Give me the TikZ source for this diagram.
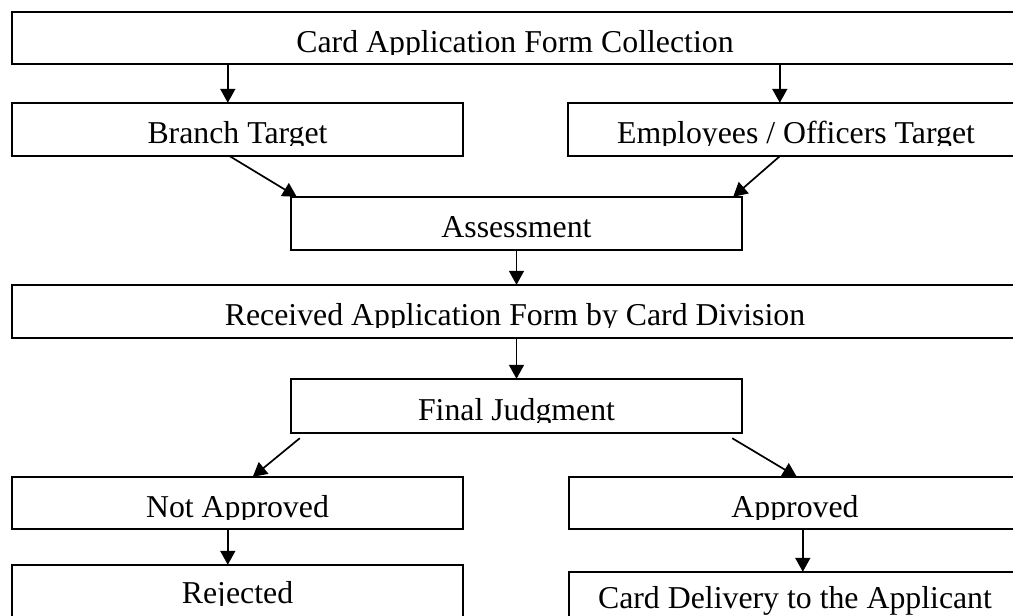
\documentclass[tikz,border=0pt]{standalone}
\usepackage{fontspec}
\setmainfont{Liberation Serif}
\usetikzlibrary{arrows.meta,calc}
\tikzset{
  box/.style={rectangle, inner sep=0pt, fill=white,
    font=\fontsize{31.8}{36}\selectfont},
  frame/.style={draw=black, line width=2pt},
  conn/.style={line width=1.7pt, -{Triangle[length=14pt,width=15pt]}},
  cutstrip/.style={fill=white, draw=none}
}
\begin{document}
\begin{tikzpicture}[x=1pt,y=-1pt]
\useasboundingbox (0,0) rectangle (1013,616);
\fill[white] (0,0) rectangle (1013,616);
% boxes
\node[box, minimum width=1006pt, minimum height=52pt, text height=40pt, text depth=12pt] (top) at (515,38) {Card Application Form Collection};
\node[box, minimum width=451pt, minimum height=53pt, text height=40pt, text depth=13pt] (branch) at (237.5,129.5) {Branch Target};
\node[box, minimum width=456pt, minimum height=53pt, text height=40pt, text depth=13pt] (emp) at (796,129.5) {Employees / Officers Target};
\node[box, minimum width=451pt, minimum height=53pt, text height=40pt, text depth=13pt] (assess) at (516.5,223.5) {Assessment};
\node[box, minimum width=1006pt, minimum height=53pt, text height=40pt, text depth=13pt] (recv) at (515,311.5) {Received Application Form by Card Division};
\node[box, minimum width=451pt, minimum height=54pt, text height=41pt, text depth=13pt] (final) at (516.5,406) {Final Judgment};
\node[box, minimum width=451pt, minimum height=52pt, text height=40pt, text depth=12pt] (notappr) at (237.5,503) {Not Approved};
\node[box, minimum width=452pt, minimum height=52pt, text height=40pt, text depth=12pt] (appr) at (795,503) {Approved};
\node[box, minimum width=451pt, minimum height=53pt, text height=38pt, text depth=15pt] (rej) at (237.5,591.5) {Rejected};
\node[box, minimum width=452pt, minimum height=53pt, text height=36pt, text depth=17pt] (deliv) at (795,598.5) {Card Delivery to the Applicant};
% descenders cut off by the text frames, as in the original
\fill[cutstrip] ($(top.south west)+(0,-9)$) rectangle (top.south east);
\fill[cutstrip] ($(branch.south west)+(0,-10)$) rectangle (branch.south east);
\fill[cutstrip] ($(emp.south west)+(0,-10)$) rectangle (emp.south east);
\fill[cutstrip] ($(recv.south west)+(0,-10)$) rectangle (recv.south east);
\fill[cutstrip] ($(final.south west)+(0,-10)$) rectangle (final.south east);
\fill[cutstrip] ($(notappr.south west)+(0,-9)$) rectangle (notappr.south east);
\fill[cutstrip] ($(appr.south west)+(0,-9)$) rectangle (appr.south east);
\fill[cutstrip] ($(rej.south west)+(0,-12)$) rectangle (rej.south east);
% frames
\foreach \n in {top,branch,emp,assess,recv,final,notappr,appr,rej,deliv}
  \draw[frame] (\n.north west) rectangle (\n.south east);
% connectors
\coordinate (a1) at ($(top.south west)+(216,0)$);
\draw[conn] (a1) -- (a1 |- branch.north);
\coordinate (a2) at ($(top.south west)+(768,0)$);
\draw[conn] (a2) -- (a2 |- emp.north);
\draw[conn] ($(branch.south west)+(218,0)$) -- ($(assess.north west)+(6,0)$);
\draw[conn] ($(emp.south west)+(212,0)$) -- ($(assess.north east)+(-9,0)$);
\draw[conn] (assess.south) -- (assess.south |- recv.north);
\draw[conn] (recv.south -| final.north) -- (final.north);
\draw[conn] ($(final.south west)+(9,5)$) -- ($(notappr.north west)+(241,0)$);
\draw[conn] ($(final.south east)+(-10,5)$) -- ($(appr.north west)+(228,0)$);
\coordinate (a3) at ($(notappr.south west)+(216,0)$);
\draw[conn] (a3) -- (a3 |- rej.north);
\coordinate (a4) at ($(appr.south west)+(234,0)$);
\draw[conn] (a4) -- (a4 |- deliv.north);
\end{tikzpicture}
\end{document}
